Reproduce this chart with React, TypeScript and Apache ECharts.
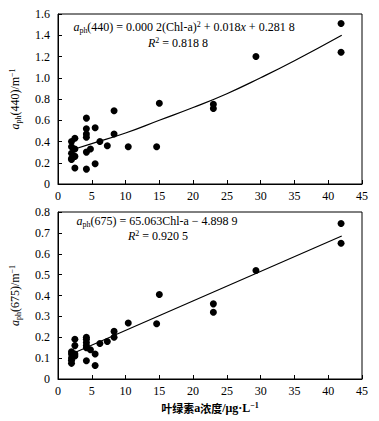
import React, { useEffect, useRef } from "react";
import * as echarts from "echarts";

const chlA = [41.9, 41.9, 29.3, 23.0, 23.0, 15.0, 14.6, 10.4, 8.3, 8.3, 7.3, 6.2, 5.5, 5.5, 4.8, 4.2, 4.2, 4.2, 4.2, 4.2, 4.2, 2.5, 2.5, 2.5, 2.5, 2.0, 2.0, 2.0, 2.0, 2.0];
const aph440 = [1.51, 1.24, 1.2, 0.75, 0.71, 0.76, 0.35, 0.35, 0.69, 0.47, 0.36, 0.4, 0.53, 0.19, 0.33, 0.62, 0.52, 0.47, 0.44, 0.3, 0.14, 0.43, 0.33, 0.26, 0.15, 0.4, 0.35, 0.29, 0.24, 0.23];
const aph675 = [0.745, 0.65, 0.52, 0.36, 0.32, 0.405, 0.265, 0.268, 0.228, 0.2, 0.18, 0.17, 0.12, 0.065, 0.14, 0.2, 0.19, 0.175, 0.16, 0.15, 0.087, 0.19, 0.16, 0.12, 0.11, 0.13, 0.12, 0.1, 0.09, 0.075];

const fitX440 = [2, 5, 10, 15, 20, 25, 30, 35, 42];
const fitY440 = [0.32, 0.38, 0.48, 0.6, 0.72, 0.85, 1.0, 1.16, 1.4];
const fitX675 = [2, 42];
const fitY675 = [0.12, 0.685];

const SERIF = "Liberation Serif";
const CJK = "Noto Sans CJK SC";

const rich = {
  i: { fontFamily: SERIF, fontSize: 12, fontStyle: "italic", color: "#000", lineHeight: 14 },
  n: { fontFamily: SERIF, fontSize: 12, color: "#000", lineHeight: 14 },
  nb: { fontFamily: SERIF, fontSize: 12, fontWeight: "bold", color: "#000", lineHeight: 14 },
  ni: { fontFamily: SERIF, fontSize: 12, fontStyle: "italic", color: "#000", lineHeight: 14 },
  sub: { fontFamily: SERIF, fontSize: 8, color: "#000", verticalAlign: "bottom", lineHeight: 14 },
  sup: { fontFamily: SERIF, fontSize: 8, color: "#000", verticalAlign: "top", lineHeight: 14 },
  supb: { fontFamily: SERIF, fontSize: 8, fontWeight: "bold", color: "#000", verticalAlign: "top", lineHeight: 14 },
  cn: { fontFamily: CJK, fontSize: 11, fontWeight: "bold", color: "#000", lineHeight: 14 },
};

function pairs(xs: number[], ys: number[]) {
  return xs.map((x, i) => [x, ys[i]]);
}

export default function App() {
  const ref = useRef<HTMLDivElement>(null);
  useEffect(() => {
    if (!ref.current) return;
    const chart = echarts.init(ref.current, undefined, { renderer: "svg" });
    const xAxisBase = (gridIndex: number, withName: boolean) => ({
      type: "value" as const,
      gridIndex,
      min: 0,
      max: 45,
      interval: 5,
      axisLine: { show: true, lineStyle: { color: "#000", width: 1 } },
      axisTick: { show: true, inside: true, length: 4, lineStyle: { color: "#000" } },
      axisLabel: { color: "#000", fontFamily: SERIF, fontSize: 12, margin: 6 },
      splitLine: { show: false },
      name: withName ? "{cn|叶绿素}{nb|a}{cn|浓度}{nb|/μg·L}{supb|−1}" : "",
      nameLocation: "middle" as const,
      nameGap: 22,
      nameTextStyle: { rich },
    });
    const yAxisBase = (gridIndex: number, max: number, interval: number, name: string) => ({
      type: "value" as const,
      gridIndex,
      min: 0,
      max,
      interval,
      axisLine: { show: true, lineStyle: { color: "#000", width: 1 } },
      axisTick: { show: true, inside: true, length: 4, lineStyle: { color: "#000" } },
      axisLabel: {
        color: "#000",
        fontFamily: SERIF,
        fontSize: 12,
        margin: 8,
        formatter: (v: number) => (v === 0 ? "0" : v.toFixed(1)),
      },
      splitLine: { show: false },
      name,
      nameLocation: "middle" as const,
      nameGap: 36,
      nameTextStyle: { rich },
    });
    chart.setOption({
      animation: false,
      backgroundColor: "#fff",
      grid: [
        { left: 57, right: 17, top: 14, height: 170, show: true, borderColor: "#000", borderWidth: 1 },
        { left: 57, right: 17, top: 212, height: 167, show: true, borderColor: "#000", borderWidth: 1 },
      ],
      xAxis: [xAxisBase(0, false), xAxisBase(1, true)],
      yAxis: [
        yAxisBase(0, 1.6, 0.2, "{i|a}{sub|ph}{n|(440)/m}{sup|−1}"),
        yAxisBase(1, 0.8, 0.1, "{i|a}{sub|ph}{n|(675)/m}{sup|−1}"),
      ],
      graphic: [
        {
          type: "text",
          x: 184,
          y: 27,
          style: {
            text: "{i|a}{sub|ph}{n|(440) = 0.000 2(Chl-a)}{sup|2}{n| + 0.018}{ni|x}{n| + 0.281 8}",
            rich,
            align: "center",
            verticalAlign: "middle",
          },
        },
        {
          type: "text",
          x: 178,
          y: 43,
          style: { text: "{ni|R}{sup|2}{n| = 0.818 8}", rich, align: "center", verticalAlign: "middle" },
        },
        {
          type: "text",
          x: 157,
          y: 221,
          style: { text: "{i|a}{sub|ph}{n|(675) = 65.063Chl-a − 4.898 9}", rich, align: "center", verticalAlign: "middle" },
        },
        {
          type: "text",
          x: 158,
          y: 236,
          style: { text: "{ni|R}{sup|2}{n| = 0.920 5}", rich, align: "center", verticalAlign: "middle" },
        },
      ],
      series: [
        {
          type: "scatter",
          xAxisIndex: 0,
          yAxisIndex: 0,
          symbolSize: 7,
          itemStyle: { color: "#000", opacity: 1 },
          data: pairs(chlA, aph440),
        },
        {
          type: "line",
          xAxisIndex: 0,
          yAxisIndex: 0,
          smooth: true,
          showSymbol: false,
          lineStyle: { color: "#000", width: 1.2 },
          data: pairs(fitX440, fitY440),
        },
        {
          type: "scatter",
          xAxisIndex: 1,
          yAxisIndex: 1,
          symbolSize: 7,
          itemStyle: { color: "#000", opacity: 1 },
          data: pairs(chlA, aph675),
        },
        {
          type: "line",
          xAxisIndex: 1,
          yAxisIndex: 1,
          showSymbol: false,
          lineStyle: { color: "#000", width: 1.2 },
          data: pairs(fitX675, fitY675),
        },
      ],
    });
    return () => chart.dispose();
  }, []);
  return (
    <div
      ref={ref}
      style={{ position: "absolute", left: 0, top: 0, width: 379, height: 421, background: "#fff" }}
    />
  );
}
